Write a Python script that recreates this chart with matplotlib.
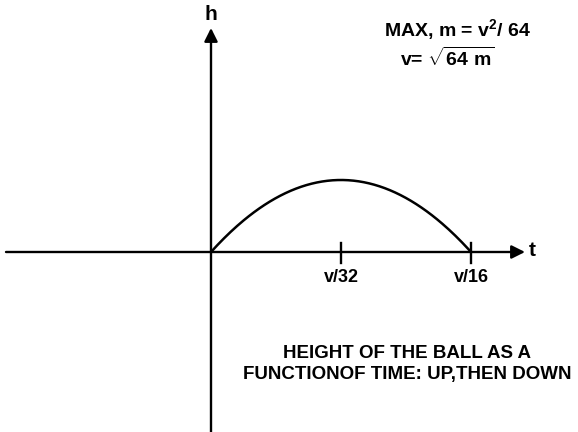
import numpy as np
import matplotlib.pyplot as plt

# ball thrown up at speed v (ft/s): h = v t - 16 t^2
v = 32.0
g_half = 16.0
tick_pos = [v / 32, v / 16]
tick_labels = ['v/32', 'v/16']
note_lines = ['HEIGHT OF THE BALL AS A', 'FUNCTIONOF TIME: UP,THEN DOWN']

t = np.linspace(0, v / 16, 200)
h = v * t - g_half * t ** 2

plt.rcParams['font.family'] = ['Liberation Sans', 'DejaVu Sans']
plt.rcParams['mathtext.fontset'] = 'custom'
plt.rcParams['mathtext.rm'] = 'Liberation Sans:bold'
plt.rcParams['mathtext.it'] = 'Liberation Sans:bold'

fig = plt.figure(figsize=(5.78, 4.32), dpi=100)
ax = fig.add_axes([0, 0, 1, 1])
ax.set_xlim(-211 / 130, 367 / 130)
ax.set_ylim(-180 / 4.5, 252 / 4.5)
ax.axis('off')

xl, xr = ax.get_xlim()
yb, yt = ax.get_ylim()

# axes with arrows
ax.annotate('', xy=(314 / 130, 0), xytext=(xl + 6 / 130, 0),
            arrowprops=dict(arrowstyle='-|>', color='black', lw=1.7,
                            mutation_scale=20, shrinkA=0, shrinkB=0))
ax.annotate('', xy=(0, 224 / 4.5), xytext=(0, yb),
            arrowprops=dict(arrowstyle='-|>', color='black', lw=1.7,
                            mutation_scale=20, shrinkA=0, shrinkB=0))
ax.text(318 / 130, 2 / 4.5, 't', fontsize=15, fontweight='bold', va='center', ha='left')
ax.text(0, 228 / 4.5, 'h', fontsize=15, fontweight='bold', va='bottom', ha='center')

ax.plot(t, h, color='black', lw=1.8)

for x, lab in zip(tick_pos, tick_labels):
    ax.plot([x, x], [9 / 4.5, -11 / 4.5], color='black', lw=1.7)
    ax.text(x, -26 / 4.5, lab, fontsize=13, fontweight='bold', ha='center', va='center')

xc = (407 - 211) / 130
ax.text(xc, -101 / 4.5, note_lines[0], fontsize=13.5,
        fontweight='bold', ha='center', va='center')
ax.text(xc, -123 / 4.5, note_lines[1], fontsize=13.5,
        fontweight='bold', ha='center', va='center')

ax.text((458 - 211) / 130, 222 / 4.5, r'MAX, m = v$^2$/ 64', fontsize=14,
        fontweight='bold', ha='center', va='center')
ax.text((447 - 211) / 130, 194 / 4.5, r'v= $\sqrt{64\ \mathrm{m}}$', fontsize=14,
        fontweight='bold', ha='center', va='center')

fig.savefig('out.png', dpi=100)
